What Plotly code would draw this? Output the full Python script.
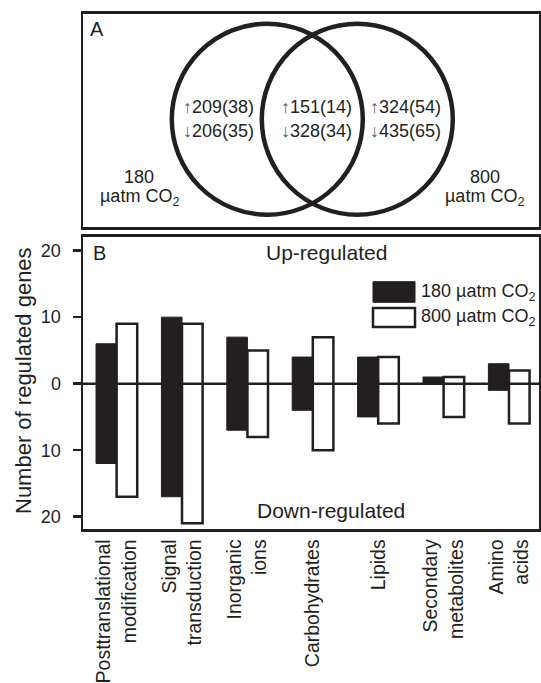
import plotly.graph_objects as go

# ---------------- data ----------------
categories = ["Posttranslational<br>modification", "Signal<br>transduction", "Inorganic<br>ions",
              "Carbohydrates", "Lipids", "Secondary<br>metabolites", "Amino<br>acids"]
up_180 = [6, 10, 7, 4, 4, 1, 3]
down_180 = [12, 17, 7, 4, 5, 0, 1]
up_800 = [9, 9, 5, 7, 4, 1, 2]
down_800 = [17, 21, 8, 10, 6, 5, 6]
series_names = ["180 \u00b5atm CO<sub>2</sub>", "800 \u00b5atm CO<sub>2</sub>"]
ytick_vals = [-20, -10, 0, 10, 20]
ytick_text = ["20", "10", "0", "10", "20"]

venn_up = [209, 151, 324]
venn_up_sub = [38, 14, 54]
venn_down = [206, 328, 435]
venn_down_sub = [35, 34, 65]
venn_sets = ["180<br>\u00b5atm CO<sub>2</sub>", "800<br>\u00b5atm CO<sub>2</sub>"]

# ---------------- style ----------------
W, H = 541, 683
DARK = "#231f20"
FONT = "Liberation Sans, Arial, sans-serif"

def px(x):
    return x / W

def py(y):
    return 1 - y / H

fig = go.Figure()

fig.add_trace(go.Bar(
    x=categories, y=[u + d for u, d in zip(up_180, down_180)], base=[-d for d in down_180],
    name=series_names[0], marker=dict(color=DARK, line=dict(color=DARK, width=1)),
    showlegend=False, hoverinfo="skip", xaxis="x", yaxis="y"))
fig.add_trace(go.Bar(
    x=categories, y=[u + d for u, d in zip(up_800, down_800)], base=[-d for d in down_800],
    name=series_names[1], marker=dict(color="white", line=dict(color=DARK, width=2.5)),
    showlegend=False, hoverinfo="skip", xaxis="x", yaxis="y"))

# panel B box limits (pixels)
BL, BR, BT, BB = 83, 539, 236.5, 529
# panel A box limits (pixels)
AL, AR, AT, AB = 83, 539, 13.5, 227

fig.update_layout(
    width=W, height=H, margin=dict(l=0, r=0, t=0, b=0),
    paper_bgcolor="white", plot_bgcolor="white",
    barmode="group", bargap=0.37, bargroupgap=0,
    font=dict(family=FONT, color=DARK),
    xaxis=dict(domain=[px(BL), px(BR)], range=[-0.514, 6.459], type="category",
               showline=True, mirror=True, linecolor=DARK, linewidth=2.5,
               ticks="", tickangle=-90, tickfont=dict(size=19.5, color=DARK),
               showgrid=False, zeroline=False, anchor="y"),
    yaxis=dict(domain=[py(BB), py(BT)], range=[-21.85, 22.13],
               showline=True, mirror=True, linecolor=DARK, linewidth=2.5,
               ticks="outside", ticklen=8, tickwidth=2.5, tickcolor=DARK,
               tickvals=ytick_vals, ticktext=ytick_text, tickfont=dict(size=18, color=DARK),
               ticklabelstandoff=8,
               showgrid=False, zeroline=False, anchor="x"),
    xaxis2=dict(domain=[px(AL), px(AR)], range=[AL, AR], showline=True, mirror=True,
                linecolor=DARK, linewidth=2.5, showticklabels=False, ticks="",
                showgrid=False, zeroline=False, anchor="y2"),
    yaxis2=dict(domain=[py(AB), py(AT)], range=[AB, AT], showline=True, mirror=True,
                linecolor=DARK, linewidth=2.5, showticklabels=False, ticks="",
                showgrid=False, zeroline=False, anchor="x2"),
)

shapes = []
# zero line over the bars
shapes.append(dict(type="line", xref="paper", yref="y", x0=px(BL), x1=px(BR), y0=0, y1=0,
                   line=dict(color=DARK, width=2.5), layer="above"))
# legend swatches
shapes.append(dict(type="rect", xref="paper", yref="paper", x0=px(373), x1=px(415),
                   y0=py(302.3), y1=py(281.7), fillcolor=DARK, line=dict(color=DARK, width=1)))
shapes.append(dict(type="rect", xref="paper", yref="paper", x0=px(373), x1=px(415),
                   y0=py(327), y1=py(308), fillcolor="white", line=dict(color=DARK, width=2.5)))
# Venn circles
circles = [(267.3, 119.2), (357.3, 119.2)]
R = 95.5
for cx, cy in circles:
    shapes.append(dict(type="circle", xref="x2", yref="y2", x0=cx - R, x1=cx + R,
                       y0=cy - R, y1=cy + R, line=dict(color=DARK, width=4.5)))
fig.update_layout(shapes=shapes)

ann = []
def add_text(text, x, y, size, xanchor="center", yanchor="middle", angle=0, align="center"):
    ann.append(dict(text=text, xref="paper", yref="paper", x=px(x), y=py(y), showarrow=False,
                    xanchor=xanchor, yanchor=yanchor, textangle=angle, align=align,
                    font=dict(size=size, color=DARK, family=FONT)))

ARROW = '<span style="color:#555555">%s</span>'
# Venn texts
venn_x = [218.5, 316.5, 405]
for i in range(3):
    add_text(ARROW % "\u2191" + "%d(%d)" % (venn_up[i], venn_up_sub[i]), venn_x[i], 107, 18)
    add_text(ARROW % "\u2193" + "%d(%d)" % (venn_down[i], venn_down_sub[i]), venn_x[i], 131, 18)
add_text(venn_sets[0].split("<br>")[0], 139.3, 177, 18)
add_text(venn_sets[0].split("<br>")[1], 139.5, 198, 18)
add_text(venn_sets[1].split("<br>")[0], 485, 177, 18)
add_text(venn_sets[1].split("<br>")[1], 484.5, 198, 18)
add_text("A", 96.5, 29, 20)

# panel B texts
add_text("B", 99, 253, 20)
add_text("Up-regulated", 326, 252.5, 21)
add_text("Down-regulated", 331, 510.5, 21)
add_text(series_names[0], 419, 292.5, 18, xanchor="left")
add_text(series_names[1], 419, 318, 18, xanchor="left")
add_text("Number of regulated genes", 23, 381, 22, angle=-90)

fig.update_layout(annotations=ann)

fig.write_html("out.html", config={"displayModeBar": False, "staticPlot": True},
               post_script="document.body.style.margin='0';document.body.style.padding='0';")
